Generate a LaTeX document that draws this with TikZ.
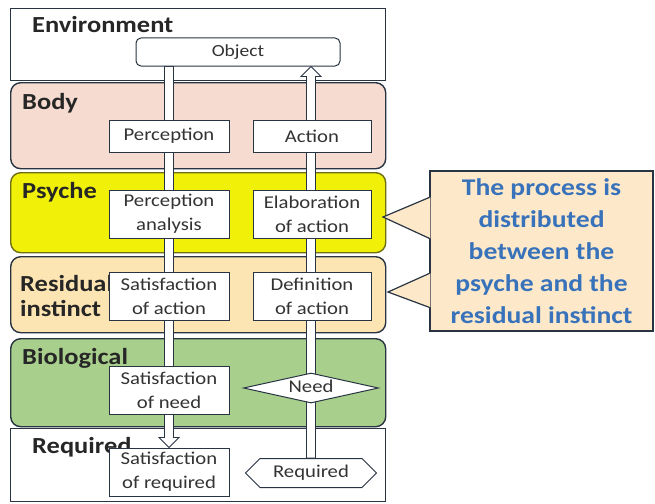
\documentclass[tikz,border=0pt]{standalone}
\usepackage{fontspec}
\setmainfont{Carlito}[FakeStretch=1.15]
\usetikzlibrary{shapes.geometric,shapes.symbols,calc}
\pgfdeclarelayer{bg}
\pgfdeclarelayer{mid}
\pgfsetlayers{bg,mid,main}
\definecolor{edge}{RGB}{40,52,66}
\definecolor{bodyc}{RGB}{246,220,208}
\definecolor{psychec}{RGB}{240,240,8}
\definecolor{psychee}{RGB}{110,110,20}
\definecolor{residc}{RGB}{252,229,178}
\definecolor{bioc}{RGB}{168,207,140}
\definecolor{callc}{RGB}{253,233,201}
\definecolor{callt}{RGB}{56,114,186}
\newcommand{\hollowvarrow}[2]{%
  \draw[harrow] let \p1=(#1), \p2=(#2), \n1={sign(\y2-\y1)} in
    (\x1-4.5pt,\y1) -- (\x1-4.5pt,\y2-\n1*10pt) -- (\x1-10pt,\y2-\n1*10pt) --
    (\x2,\y2) -- (\x1+10pt,\y2-\n1*10pt) -- (\x1+4.5pt,\y2-\n1*10pt) --
    (\x1+4.5pt,\y1) -- cycle;}
\begin{document}
\begin{tikzpicture}[x=1pt,y=-1pt,
  band/.style={draw=edge, line width=1.4pt, anchor=north west, minimum width=375, inner sep=0},
  rband/.style={band, rounded corners=10pt},
  blabel/.style={anchor=west, inner sep=0, font=\fontsize{23}{25}\selectfont\bfseries, text=black!85, align=left},
  box/.style={draw=edge, line width=1pt, fill=white, minimum width=120, minimum height=48, inner sep=0,
    align=center, font=\fontsize{18}{24}\selectfont, text=black!80},
  sbox/.style={box, minimum height=32},
  harrow/.style={draw=edge, line width=0.9pt, fill=white, line join=miter}
]
\useasboundingbox (0,0) rectangle (655,503);

\begin{pgfonlayer}{bg}
\node[band, fill=white, minimum height=72] (env) at (10,8) {};
\node[rband, fill=bodyc, minimum height=86] (bodyb) at (10,82) {};
\node[rband, fill=psychec, draw=psychee, minimum height=80] (psy) at (10,172) {};
\node[rband, fill=residc, minimum height=76] (res) at (10,256) {};
\node[rband, fill=bioc, minimum height=88] (bio) at (10,338) {};
\node[band, fill=white, minimum height=73] (reqb) at (10,428) {};
\node[blabel] (lenv) at (32,25) {Environment};
\node[blabel] (lbody) at (22,103) {Body};
\node[blabel] (lpsy) at (22,192) {Psyche};
\node[blabel] (lres) at (20,296) {Residual\\instinct};
\node[blabel] (lbio) at (22,358) {Biological};
\node[blabel] (lreq) at (32,447) {Required};
\end{pgfonlayer}

\node[sbox, minimum width=204, minimum height=28, rounded corners=5pt, font=\fontsize{17}{18}\selectfont] (obj) at (238,52) {Object};
\node[sbox] (perc) at (169,136) {Perception};
\node[sbox, minimum width=118] (act) at (312,136) {Action};
\node[box] (pana) at (169,214) {Perception\\analysis};
\node[box, minimum width=118] (elab) at (312,214) {Elaboration\\of action};
\node[box] (sact) at (169,296) {Satisfaction\\of action};
\node[box, minimum width=118] (dact) at (312,296) {Definition\\of action};
\node[box] (sneed) at (169,390) {Satisfaction\\of need};
\node[diamond, aspect=4.5, draw=edge, line width=1pt, fill=white, minimum width=135, minimum height=30, inner sep=0,
  text height=8pt, text depth=0pt, font=\fontsize{18}{20}\selectfont, text=black!80] (need) at (311,388) {Need};
\node[box] (sreq) at (169,472) {Satisfaction\\of required};
\node[signal, signal to=east and west, draw=edge, line width=1pt, fill=white, minimum width=131, minimum height=29, inner sep=0,
  font=\fontsize{18}{20}\selectfont, text=black!80] (req) at (311,473) {Required};

\coordinate (la) at (obj.south -| perc.center);
\coordinate (ra) at (obj.south -| req.north);
\begin{pgfonlayer}{mid}
\hollowvarrow{la}{sreq.north}
\hollowvarrow{req.north}{ra}
\end{pgfonlayer}

\node[draw=edge, line width=1.2pt, fill=callc, minimum width=223, minimum height=160, inner sep=0,
  align=center, text=callt, font=\fontsize{24}{32}\selectfont\bfseries] (call) at (541.5,251)
  {The process is\\distributed\\between the\\psyche and the\\residual instinct};
\coordinate (t1a) at ($(call.north west)+(0,27)$);
\coordinate (t1b) at ($(call.north west)+(0,68)$);
\coordinate (t1tip) at (383,217);
\coordinate (t2a) at ($(call.north west)+(0,103)$);
\coordinate (t2b) at ($(call.north west)+(0,137)$);
\coordinate (t2tip) at (388,292);
\fill[callc] ($(t1a)+(1,0)$) -- (t1tip) -- ($(t1b)+(1,0)$) -- cycle;
\fill[callc] ($(t2a)+(1,0)$) -- (t2tip) -- ($(t2b)+(1,0)$) -- cycle;
\draw[edge, line width=1.2pt, line join=miter] (t1a) -- (t1tip) -- (t1b);
\draw[edge, line width=1.2pt, line join=miter] (t2a) -- (t2tip) -- (t2b);
\end{tikzpicture}
\end{document}
